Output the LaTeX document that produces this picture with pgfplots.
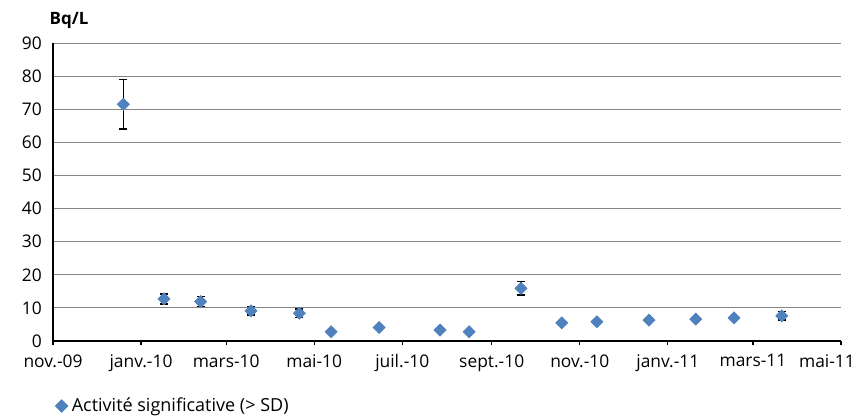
\documentclass[border=0pt]{standalone}
\usepackage{pgfplots}
\pgfplotsset{compat=1.18}
\usepackage{fontspec}
\setmainfont{Open Sans}
\definecolor{bleu}{HTML}{4F81BD}
\definecolor{gridc}{HTML}{868686}
\begin{document}
\begin{tikzpicture}
\path[use as bounding box] (-26.5pt,-38.5pt) rectangle (406.5pt,170.5pt);
\begin{axis}[
  at={(0,0)}, anchor=south west,
  scale only axis, width=394pt, height=149pt,
  xmin=0, xmax=546, ymin=0, ymax=90,
  axis x line=bottom, axis y line=left,
  axis line style={-},
  x axis line style={black, line width=0.7pt},
  y axis line style={black, line width=1.1pt},
  xtick={0,61,120,181,242,304,365,426,485,546},
  xticklabels={nov.-09,janv.-10,mars-10,mai-10,juil.-10,sept.-10,nov.-10,janv.-11,mars-11,mai-11\rule{14pt}{0pt}},
  ytick={0,10,...,90},
  ymajorgrids, grid style={gridc, line width=0.5pt},
  xtick style={black, line width=0.6pt},
  major tick length=2.2pt,
  xtick align=outside,
  ytick style={draw=none},
  tick label style={font=\fontsize{8.7}{10}\selectfont},
  /pgf/number format/assume math mode=true,
  yticklabel style={xshift=-1pt},
  xticklabel style={yshift=-1pt},
  clip=false,
  legend style={at={(0,0)}, anchor=west, xshift=-2pt, yshift=-32.5pt, draw=none, fill=none, font=\fontsize{9}{10}\selectfont},
  legend image code/.code={\pgfsetfillcolor{bleu}\pgfsetstrokecolor{bleu}\pgfsetplotmarksize{2.2pt}\pgftransformshift{\pgfqpoint{0.1cm}{0pt}}\pgftransformrotate{45}\pgfuseplotmark{square*}},
]
\addplot[only marks, mark=square*, mark size=2.1pt, mark options={rotate=45, bleu, fill=bleu},
  error bars/.cd, y dir=both, y explicit,
  error bar style={black, line width=0.7pt},
  error mark options={rotate=90, mark size=2pt, black, line width=0.7pt}]
  table[x=x, y=y, y error=e] {
x y e
48.7 71.5 7.5
76.9 12.7 1.5
102.3 11.9 1.5
137.2 9.1 1.3
170.7 8.4 1.3
324.3 15.9 2.0
505 7.6 1.3
};
\addlegendentry{Activité significative (> SD)}
\addplot[only marks, mark=square*, mark size=2.1pt, mark options={rotate=45, bleu, fill=bleu}, forget plot]
  table[x=x, y=y] {
x y
192.7 2.8
226 4.1
268.2 3.3
288.3 2.8
352.5 5.5
376.8 5.8
413 6.3
445.4 6.6
471.9 7.0
};
\node[font=\fontsize{8.5}{9}\selectfont\bfseries] at ([xshift=8pt,yshift=11.5pt]rel axis cs:0,1) {Bq/L};
\end{axis}
\end{tikzpicture}
\end{document}
